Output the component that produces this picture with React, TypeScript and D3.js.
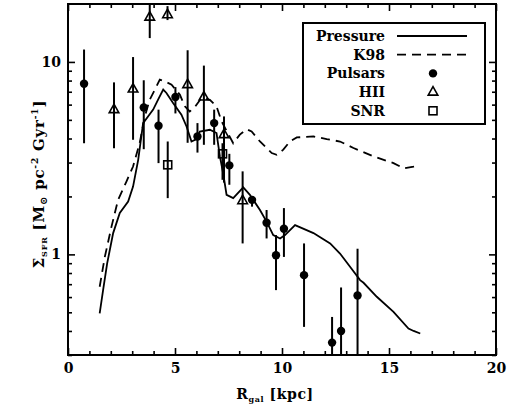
import React, { useEffect, useRef } from 'react'
import * as d3 from 'd3'

// model curves
const pressR = [1.48, 1.64, 1.83, 2.11, 2.42, 2.81, 3.04, 3.28, 3.51, 3.74, 3.98, 4.21, 4.45, 4.6, 4.91, 5.3, 5.54, 5.77, 6.01, 6.16, 6.63, 6.94, 7.1, 7.25, 7.41, 7.72, 8.19, 8.5, 8.97, 9.28, 9.59, 9.91, 10.14, 10.61, 11.47, 12.25, 12.71, 13.18, 13.65, 13.81, 14.43, 15.21, 15.91, 16.15, 16.46]
const pressSFR = [0.493, 0.652, 0.898, 1.29, 1.64, 1.88, 2.25, 3.1, 4.81, 5.21, 5.65, 6.37, 7.18, 6.9, 6.11, 5.32, 4.62, 3.86, 3.97, 4.35, 4.44, 4.27, 3.22, 2.64, 2.04, 1.96, 2.23, 2.04, 1.7, 1.48, 1.26, 1.21, 1.26, 1.42, 1.29, 1.14, 1.01, 0.863, 0.735, 0.712, 0.602, 0.503, 0.412, 0.4, 0.388]
const k98R = [1.48, 1.72, 2.03, 2.34, 2.73, 3.04, 3.35, 3.59, 3.82, 4.06, 4.29, 4.52, 4.84, 5.23, 5.46, 5.69, 5.93, 6.24, 6.63, 6.94, 7.1, 7.22, 7.72, 8.03, 8.35, 8.58, 8.97, 9.52, 9.75, 10.06, 10.37, 10.69, 11.47, 12.09, 12.71, 13.34, 14.27, 15.21, 15.68, 16.15, 16.38]
const k98SFR = [0.679, 0.97, 1.39, 1.92, 2.39, 2.86, 3.79, 5.21, 6.37, 7.18, 8.09, 7.93, 7.62, 6.75, 5.88, 5.53, 5.83, 6.5, 6.36, 5.88, 5.21, 4.81, 3.78, 4.19, 4.47, 4.35, 3.86, 3.36, 3.29, 3.5, 3.86, 4.05, 4.1, 3.97, 3.86, 3.57, 3.23, 2.98, 2.8, 2.86, 2.92]

// tracers
const pulsarR = [0.75, 3.54, 4.23, 5.02, 6.05, 6.83, 7.54, 8.6, 9.28, 9.72, 10.09, 11.03, 12.34, 12.76, 13.53]
const pulsarSFR = [7.71, 5.8, 4.66, 6.57, 4.1, 4.81, 2.9, 1.92, 1.46, 0.99, 1.36, 0.78, 0.348, 0.4, 0.611]
const pulsarLo = [3.78, 3.52, 2.98, 5.4, 3.38, 3.71, 2.3, 1.77, 1.21, 0.652, 0.97, 0.42, 0.2, 0.2, 0.2]
const pulsarHi = [11.6, 8.03, 5.65, 7.4, 4.81, 5.65, 3.33, 1.99, 1.7, 1.26, 1.74, 1.14, 0.473, 0.673, 1.07]

const hiiR = [2.15, 3.04, 3.82, 4.65, 5.59, 6.35, 7.29, 8.16]
const hiiSFR = [5.65, 7.23, 17.1, 17.6, 7.62, 6.57, 4.19, 1.9]
const hiiLo = [3.56, 3.94, 13.3, 16.5, 3.8, 3.71, 2.36, 1.14]
const hiiHi = [7.83, 10.6, 25, 19.5, 11.5, 9.57, 5.21, 2.7]

const snrR = [4.66, 7.22]
const snrSFR = [2.92, 3.33]
const snrLo = [1.96, 2.44]
const snrHi = [3.86, 3.78]

const xTicks = [0, 5, 10, 15, 20]
const yTicks = [1, 10]
const yMinor = [0.3, 0.4, 0.5, 0.6, 0.7, 0.8, 0.9, 2, 3, 4, 5, 6, 7, 8, 9]
const legendLabels = ['Pressure', 'K98', 'Pulsars', 'HII', 'SNR']

const FONT = 'DejaVu Serif'

export default function App() {
  const ref = useRef<SVGSVGElement>(null)

  useEffect(() => {
    document.body.style.margin = '0'
    const svg = d3.select(ref.current)
    svg.selectAll('*').remove()

    const left = 68, right = 496, top = 4, bottom = 355
    const x = d3.scaleLinear().domain([0, 20]).range([left, right])
    const y = d3.scaleLog().domain([0.3, 20]).range([bottom, top])

    svg.append('clipPath').attr('id', 'plotclip')
      .append('rect').attr('x', left).attr('y', top)
      .attr('width', right - left).attr('height', bottom - top)

    const styleAxis = (g: any) => {
      g.select('.domain').remove()
      g.selectAll('line').attr('stroke', '#000').attr('stroke-width', 1.6)
      g.selectAll('text').attr('font-family', FONT).attr('font-weight', 'bold')
        .attr('font-size', 14).attr('fill', '#000')
    }
    const minorX = d3.range(0, 21).filter(v => v % 5 !== 0)

    svg.append('g').attr('transform', `translate(0,${bottom})`)
      .call(d3.axisBottom(x).tickValues(xTicks).tickSize(-7).tickPadding(8).tickFormat(d3.format('d')))
      .call(styleAxis)
    svg.append('g').attr('transform', `translate(0,${bottom})`)
      .call(d3.axisBottom(x).tickValues(minorX).tickSize(-4).tickFormat(() => ''))
      .call(styleAxis)
    svg.append('g').attr('transform', `translate(0,${top})`)
      .call(d3.axisTop(x).tickValues(xTicks).tickSize(-7).tickFormat(() => ''))
      .call(styleAxis)
    svg.append('g').attr('transform', `translate(0,${top})`)
      .call(d3.axisTop(x).tickValues(minorX).tickSize(-4).tickFormat(() => ''))
      .call(styleAxis)
    svg.append('g').attr('transform', `translate(${left},0)`)
      .call(d3.axisLeft(y).tickValues(yTicks).tickSize(-7).tickPadding(7).tickFormat(d3.format('d')))
      .call(styleAxis)
    svg.append('g').attr('transform', `translate(${left},0)`)
      .call(d3.axisLeft(y).tickValues(yMinor).tickSize(-4).tickFormat(() => ''))
      .call(styleAxis)
    svg.append('g').attr('transform', `translate(${right},0)`)
      .call(d3.axisRight(y).tickValues(yTicks).tickSize(-7).tickFormat(() => ''))
      .call(styleAxis)
    svg.append('g').attr('transform', `translate(${right},0)`)
      .call(d3.axisRight(y).tickValues(yMinor).tickSize(-4).tickFormat(() => ''))
      .call(styleAxis)

    svg.append('rect').attr('x', left).attr('y', top)
      .attr('width', right - left).attr('height', bottom - top)
      .attr('fill', 'none').attr('stroke', '#000').attr('stroke-width', 2)

    const plot = svg.append('g').attr('clip-path', 'url(#plotclip)')

    const line = d3.line<[number, number]>().x(d => x(d[0])).y(d => y(d[1]))
    plot.append('path').datum(pressR.map((r, i) => [r, pressSFR[i]] as [number, number]))
      .attr('d', line).attr('fill', 'none').attr('stroke', '#000').attr('stroke-width', 1.8)
    plot.append('path').datum(k98R.map((r, i) => [r, k98SFR[i]] as [number, number]))
      .attr('d', line).attr('fill', 'none').attr('stroke', '#000').attr('stroke-width', 1.8)
      .attr('stroke-dasharray', '9,6')

    const errBars = (rs: number[], lo: number[], hi: number[]) => {
      plot.append('g').selectAll('line').data(rs).join('line')
        .attr('x1', d => x(d)).attr('x2', d => x(d))
        .attr('y1', (d, i) => y(lo[i])).attr('y2', (d, i) => y(hi[i]))
        .attr('stroke', '#000').attr('stroke-width', 2)
    }
    errBars(pulsarR, pulsarLo, pulsarHi)
    errBars(hiiR, hiiLo, hiiHi)
    errBars(snrR, snrLo, snrHi)

    const tri = 'M0,-5.5L4.8,3L-4.8,3Z'
    plot.append('g').selectAll('path').data(hiiR).join('path')
      .attr('d', tri).attr('transform', (d, i) => `translate(${x(d)},${y(hiiSFR[i])})`)
      .attr('fill', 'none').attr('stroke', '#000').attr('stroke-width', 1.6)
    plot.append('g').selectAll('rect').data(snrR).join('rect')
      .attr('x', d => x(d) - 4).attr('y', (d, i) => y(snrSFR[i]) - 4)
      .attr('width', 8).attr('height', 8)
      .attr('fill', 'none').attr('stroke', '#000').attr('stroke-width', 1.6)
    plot.append('g').selectAll('circle').data(pulsarR).join('circle')
      .attr('cx', d => x(d)).attr('cy', (d, i) => y(pulsarSFR[i]))
      .attr('r', 4.2).attr('fill', '#000')

    // legend
    const leg = svg.append('g')
    leg.append('rect').attr('x', 303).attr('y', 23).attr('width', 182).attr('height', 101)
      .attr('fill', '#fff').attr('stroke', '#000').attr('stroke-width', 2)
    legendLabels.forEach((lab, i) => {
      const cy = 36 + i * 18.7
      leg.append('text').attr('x', 385).attr('y', cy + 5).attr('text-anchor', 'end')
        .attr('font-family', FONT).attr('font-weight', 'bold').attr('font-size', 14)
        .text(lab)
      if (i === 0 || i === 1) {
        leg.append('line').attr('x1', 397).attr('x2', 467).attr('y1', cy).attr('y2', cy)
          .attr('stroke', '#000').attr('stroke-width', 1.8)
          .attr('stroke-dasharray', i === 1 ? '9,6' : null)
      } else if (i === 2) {
        leg.append('circle').attr('cx', 433).attr('cy', cy).attr('r', 4.2).attr('fill', '#000')
      } else if (i === 3) {
        leg.append('path').attr('d', tri).attr('transform', `translate(433,${cy})`)
          .attr('fill', 'none').attr('stroke', '#000').attr('stroke-width', 1.6)
      } else {
        leg.append('rect').attr('x', 429).attr('y', cy - 4).attr('width', 8).attr('height', 8)
          .attr('fill', 'none').attr('stroke', '#000').attr('stroke-width', 1.6)
      }
    })

    // axis titles
    const xt = svg.append('text').attr('x', 275).attr('y', 399).attr('text-anchor', 'middle')
      .attr('font-family', FONT).attr('font-weight', 'bold').attr('font-size', 14)
      .attr('letter-spacing', 0.6)
    xt.append('tspan').text('R')
    xt.append('tspan').attr('font-size', 8).attr('dy', 3).text('gal')
    xt.append('tspan').attr('dy', -3).text(' [kpc]')

    const yt = svg.append('text').attr('transform', 'translate(44,184) rotate(-90)')
      .attr('text-anchor', 'middle')
      .attr('font-family', FONT).attr('font-weight', 'bold').attr('font-size', 15)
      .attr('letter-spacing', 0.8)
    yt.append('tspan').text('Σ')
    yt.append('tspan').attr('font-size', 8).attr('dy', 3).text('SFR')
    yt.append('tspan').attr('dy', -3).text(' [M')
    yt.append('tspan').attr('font-size', 10).attr('dy', 3).text('⊙')
    yt.append('tspan').attr('dy', -3).text(' pc')
    yt.append('tspan').attr('font-size', 9).attr('dy', -6).text('-2')
    yt.append('tspan').attr('dy', 6).text(' Gyr')
    yt.append('tspan').attr('font-size', 9).attr('dy', -6).text('-1')
    yt.append('tspan').attr('dy', 6).text(']')
  }, [])

  return <svg ref={ref} width={513} height={406} style={{ display: 'block', background: '#fff' }} />
}
